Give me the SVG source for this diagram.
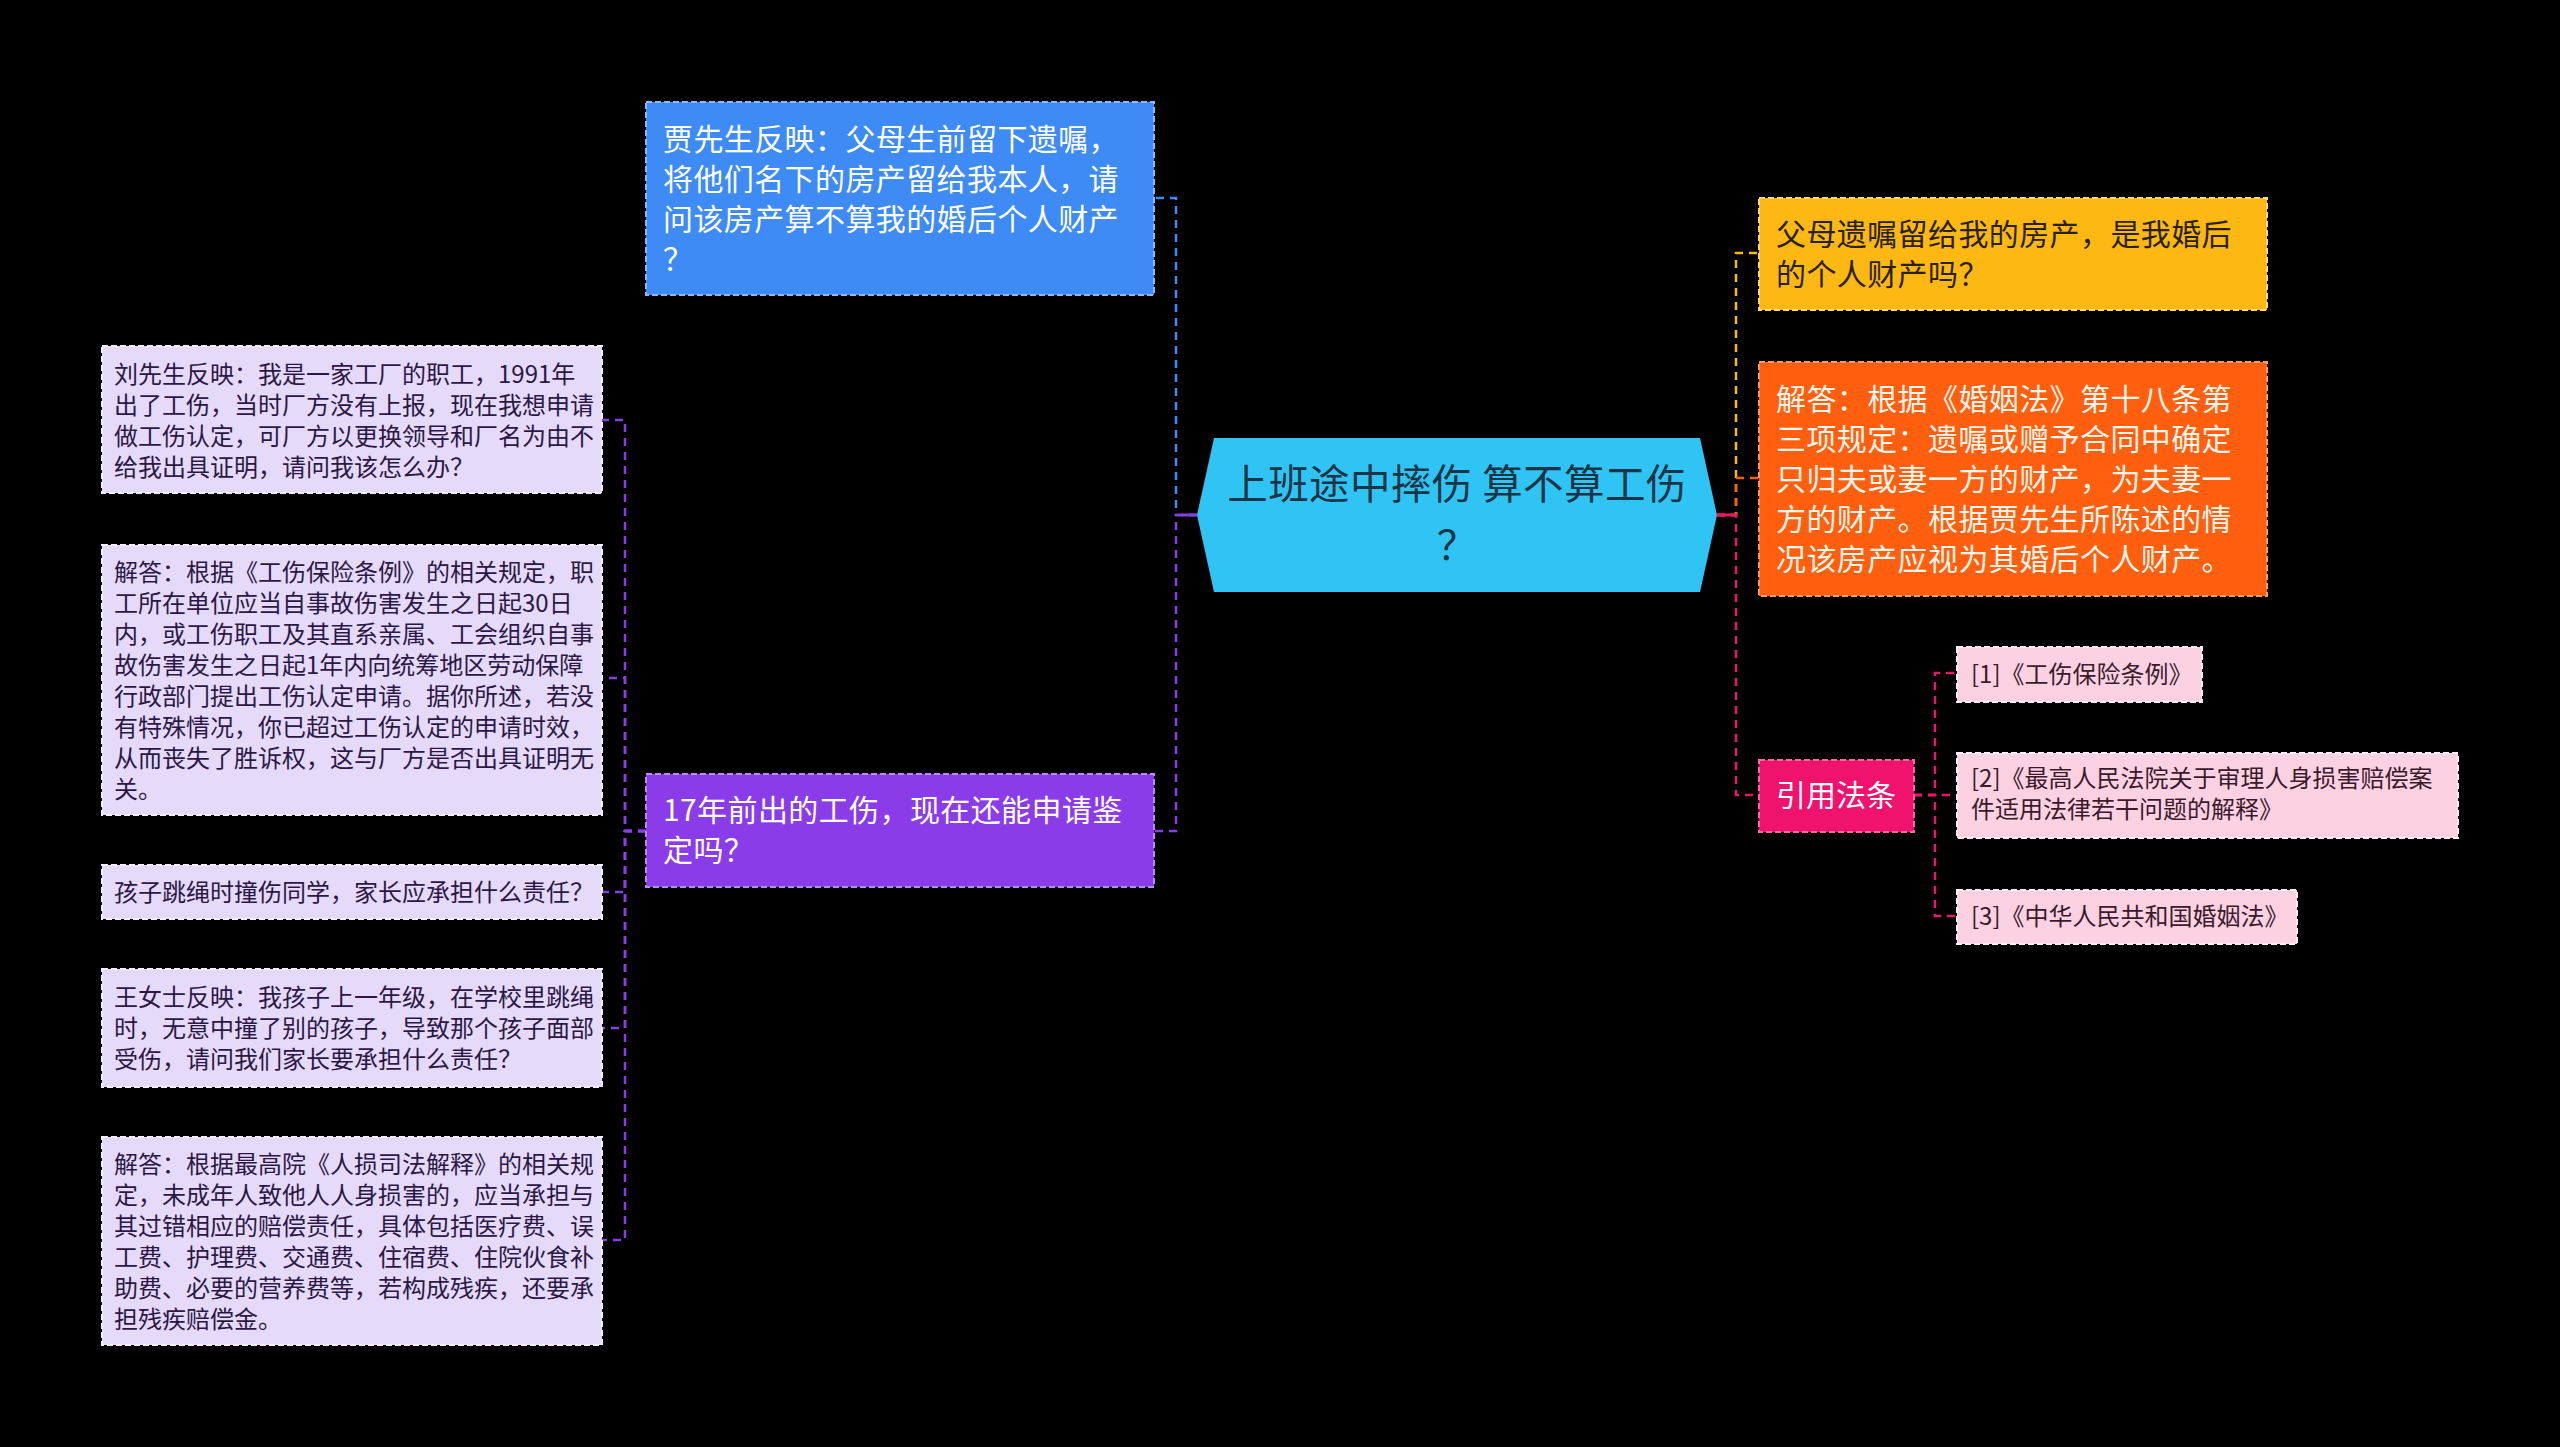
<svg xmlns="http://www.w3.org/2000/svg" width="2560" height="1447" viewBox="0 0 2560 1447">
<style>
text{font-family:"Noto Sans CJK SC","Noto Sans",sans-serif;}
.big{font-size:30px;letter-spacing:0.4px;}
.box{stroke-width:2;stroke-dasharray:6 3;}
.c{fill:none;stroke-width:2.5;stroke-dasharray:8 6;}
.lav{fill:#e6dafa;stroke:#f4eeff;}
.lavt{font-size:24px;fill:#2b1846;}
.pk{fill:#fcd2e3;stroke:#fff0f6;}
.pkt{font-size:24px;fill:#3b1a2b;}
</style>
<rect width="2560" height="1447" fill="#000"/>
<g id="connectors">
<path class="c" stroke="#3e8bf5" d="M1197 515 H1176 V198 H1154"/>
<path class="c" stroke="#8a3ce8" d="M1197 515 H1176 V831 H1154"/>
<path class="c" stroke="#8a3ce8" d="M646 831 H625 V420 H602"/>
<path class="c" stroke="#8a3ce8" d="M646 831 H625 V678 H602"/>
<path class="c" stroke="#8a3ce8" d="M646 831 H625 V892 H602"/>
<path class="c" stroke="#8a3ce8" d="M646 831 H625 V1028 H602"/>
<path class="c" stroke="#8a3ce8" d="M646 831 H625 V1240 H602"/>
<path class="c" stroke="#fdb813" d="M1717 515 H1736 V253 H1759"/>
<path class="c" stroke="#ff5f0f" d="M1717 515 H1736 V478 H1759"/>
<path class="c" stroke="#f0136e" d="M1717 515 H1736 V795 H1759"/>
<path class="c" stroke="#f0136e" d="M1914 795 H1935 V673 H1957"/>
<path class="c" stroke="#f0136e" d="M1914 795 H1957"/>
<path class="c" stroke="#f0136e" d="M1914 795 H1935 V916 H1957"/>
<path fill="none" stroke="#8a3ce8" stroke-width="3" d="M1197 515 H1182"/>
<path fill="none" stroke="#f0136e" stroke-width="3" d="M1717 515 H1732"/>
</g>
<g id="center">
<polygon points="1214,438 1700,438 1717,515 1700,592 1214,592 1197,515" fill="#30c4f4"/>
<text font-size="40.5" fill="#1b3446" text-anchor="middle" letter-spacing="0.4" x="1457" y="499">上班途中摔伤 算不算工伤</text>
<text font-size="40.5" fill="#1b3446" text-anchor="middle" x="1457" y="560">？</text>
</g>
<g id="n-jia">
<rect class="box" x="646" y="102" width="508" height="193" fill="#3e8bf5" stroke="#8db8ff"/>
<text class="big" fill="#fff"><tspan x="663" y="150">贾先生反映：父母生前留下遗嘱，</tspan><tspan x="663" y="190">将他们名下的房产留给我本人，请</tspan><tspan x="663" y="230">问该房产算不算我的婚后个人财产</tspan><tspan x="663" y="270">？</tspan></text>
</g>
<g id="n-17">
<rect class="box" x="646" y="774" width="508" height="113" fill="#8a3ce8" stroke="#b98af5"/>
<text class="big" fill="#fff"><tspan x="663" y="821">17年前出的工伤，现在还能申请鉴</tspan><tspan x="663" y="861">定吗？</tspan></text>
</g>
<g id="n-liu">
<rect class="box lav" x="102" y="346" width="500" height="147"/>
<text class="lavt"><tspan x="114" y="383">刘先生反映：我是一家工厂的职工，1991年</tspan><tspan x="114" y="414">出了工伤，当时厂方没有上报，现在我想申请</tspan><tspan x="114" y="445">做工伤认定，可厂方以更换领导和厂名为由不</tspan><tspan x="114" y="476">给我出具证明，请问我该怎么办？</tspan></text>
</g>
<g id="n-ans1">
<rect class="box lav" x="102" y="545" width="500" height="270"/>
<text class="lavt"><tspan x="114" y="581">解答：根据《工伤保险条例》的相关规定，职</tspan><tspan x="114" y="612">工所在单位应当自事故伤害发生之日起30日</tspan><tspan x="114" y="643">内，或工伤职工及其直系亲属、工会组织自事</tspan><tspan x="114" y="674">故伤害发生之日起1年内向统筹地区劳动保障</tspan><tspan x="114" y="705">行政部门提出工伤认定申请。据你所述，若没</tspan><tspan x="114" y="736">有特殊情况，你已超过工伤认定的申请时效，</tspan><tspan x="114" y="767">从而丧失了胜诉权，这与厂方是否出具证明无</tspan><tspan x="114" y="798">关。</tspan></text>
</g>
<g id="n-child">
<rect class="box lav" x="102" y="865" width="500" height="54"/>
<text class="lavt"><tspan x="114" y="901">孩子跳绳时撞伤同学，家长应承担什么责任？</tspan></text>
</g>
<g id="n-wang">
<rect class="box lav" x="102" y="969" width="500" height="118"/>
<text class="lavt"><tspan x="114" y="1006">王女士反映：我孩子上一年级，在学校里跳绳</tspan><tspan x="114" y="1037">时，无意中撞了别的孩子，导致那个孩子面部</tspan><tspan x="114" y="1068">受伤，请问我们家长要承担什么责任？</tspan></text>
</g>
<g id="n-ans2">
<rect class="box lav" x="102" y="1137" width="500" height="208"/>
<text class="lavt"><tspan x="114" y="1173">解答：根据最高院《人损司法解释》的相关规</tspan><tspan x="114" y="1204">定，未成年人致他人人身损害的，应当承担与</tspan><tspan x="114" y="1235">其过错相应的赔偿责任，具体包括医疗费、误</tspan><tspan x="114" y="1266">工费、护理费、交通费、住宿费、住院伙食补</tspan><tspan x="114" y="1297">助费、必要的营养费等，若构成残疾，还要承</tspan><tspan x="114" y="1328">担残疾赔偿金。</tspan></text>
</g>
<g id="n-q">
<rect class="box" x="1759" y="198" width="508" height="112" fill="#fdb813" stroke="#ffd877"/>
<text class="big" fill="#2a2208"><tspan x="1776" y="245">父母遗嘱留给我的房产，是我婚后</tspan><tspan x="1776" y="285">的个人财产吗？</tspan></text>
</g>
<g id="n-a">
<rect class="box" x="1759" y="362" width="508" height="234" fill="#ff5f0f" stroke="#ff9a66"/>
<text class="big" fill="#fff5ea"><tspan x="1776" y="410">解答：根据《婚姻法》第十八条第</tspan><tspan x="1776" y="450">三项规定：遗嘱或赠予合同中确定</tspan><tspan x="1776" y="490">只归夫或妻一方的财产，为夫妻一</tspan><tspan x="1776" y="530">方的财产。根据贾先生所陈述的情</tspan><tspan x="1776" y="570">况该房产应视为其婚后个人财产。</tspan></text>
</g>
<g id="n-law">
<rect class="box" x="1759" y="760" width="155" height="72" fill="#f0136e" stroke="#f76aa3"/>
<text font-size="30" fill="#fff" text-anchor="middle" x="1836" y="806">引用法条</text>
</g>
<g id="n-l1">
<rect class="box pk" x="1957" y="647" width="245" height="55"/>
<text class="pkt" x="1971" y="683">[1]《工伤保险条例》</text>
</g>
<g id="n-l2">
<rect class="box pk" x="1957" y="753" width="501" height="85"/>
<text class="pkt"><tspan x="1971" y="787">[2]《最高人民法院关于审理人身损害赔偿案</tspan><tspan x="1971" y="818">件适用法律若干问题的解释》</tspan></text>
</g>
<g id="n-l3">
<rect class="box pk" x="1957" y="890" width="340" height="54"/>
<text class="pkt" x="1971" y="925">[3]《中华人民共和国婚姻法》</text>
</g>
</svg>
